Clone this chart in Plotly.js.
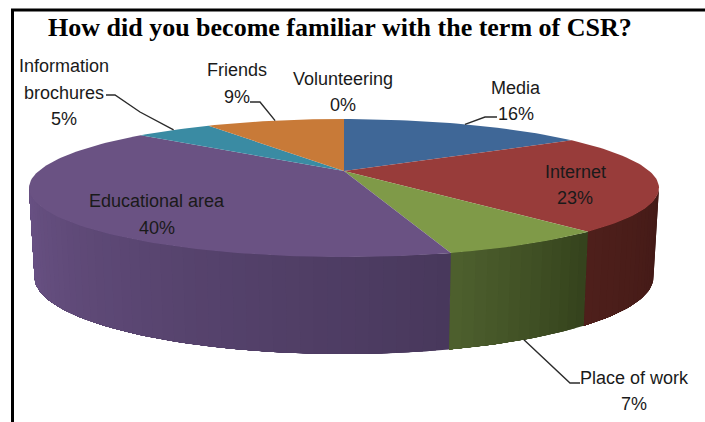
<!DOCTYPE html>
<html>
<head>
<meta charset="utf-8">
<script src="https://cdn.plot.ly/plotly-3.0.1.min.js"></script>
<style>html,body{margin:0;padding:0;background:#fff}#chart{width:705px;height:422px}</style>
</head>
<body>
<div id="chart"></div>
<script>
// Data
var categories = ["Media","Internet","Place of work","Educational area","Information brochures","Friends","Volunteering"];
var values = [16, 22.75, 6.95, 40.3, 5, 9, 0];
var titleText = "How did you become familiar with the term of CSR?";

// Styles
var topColors = ["#3f6797","#983c3a","#7f9a48","#6a5283","#3a8ba3","#c87a38","#8064a2"];
var sideLeft  = {1:[78,31,27],  2:[78,96,46], 3:[106,82,133]};
var sideRight = {1:[66,25,22],  2:[52,66,28], 3:[72,56,92]};
var labelLines = [["Media"],["Internet"],["Place of work"],["Educational area"],["Information","brochures"],["Friends"],["Volunteering"]];
var labelPos = [[516,88,26],[575,172,26],[634,378,26],[157,201,27],[64,66,26.5],[237,70,27],[343,79,26]];
var leaders = {0:[[485,117],[497,117]], 2:[[570,383],[580,383]], 4:[[140,112],[115,95],[106,95]], 5:[[260,102],[250,102]]};

// Perspective geometry of the disc
var cx = 344, cy = 171, k = 0.2464, a = 305.3, b = 64.8;
var botCy = 277, botRy = 77, botRx = 309.5;
function rad(d){return d*Math.PI/180;}
function topPt(deg){
  var u = Math.sin(rad(deg)), v = Math.cos(rad(deg)), w = 1 + k*v;
  return [cx + a*u/w, cy - b*v/w];
}
function botPt(deg){
  var x = (topPt(deg)[0]-cx)*botRx/315;
  var r = Math.min(1, Math.abs(x)/botRx);
  return [cx + x, botCy + botRy*Math.sqrt(1-r*r)];
}
var total = values.reduce(function(s,v){return s+v;},0);
var starts = [], c = 0;
values.forEach(function(v){starts.push(c/total*360); c += v;});
function endOf(i){return starts[i] + values[i]/total*360;}

var traces = [];
function poly(pts,color){
  traces.push({type:"scatter",mode:"lines",x:pts.map(function(p){return p[0];}),y:pts.map(function(p){return p[1];}),
    fill:"toself",fillcolor:color,line:{color:color,width:0},hoverinfo:"skip",showlegend:false});
}
// side wall: only the front of the disc is visible
var frontA = 180 - Math.acos(k)*180/Math.PI, frontB = 180 + Math.acos(k)*180/Math.PI;
[1,2,3].forEach(function(i){
  var s = Math.max(starts[i],frontA), e = Math.min(endOf(i),frontB);
  var n = Math.max(4, Math.round((e-s)/2));
  for(var j=0;j<n;j++){
    var t0 = s+(e-s)*j/n, f = (j+0.5)/n;
    var L = sideLeft[i], R = sideRight[i];
    var col = "rgb("+[0,1,2].map(function(q){return Math.round(R[q]+(L[q]-R[q])*f);}).join(",")+")";
    // each strip runs on to the end of the slice so no seams show between strips
    var pts = [], m = Math.ceil((e-t0)/1.5), q;
    for(q=0;q<=m;q++) pts.push(topPt(t0+(e-t0)*q/m));
    for(q=m;q>=0;q--) pts.push(botPt(t0+(e-t0)*q/m));
    pts.push(pts[0]);
    poly(pts,col);
  }
});
// top face
values.forEach(function(v,i){
  if(v<=0) return;
  var pts = [[cx,cy]], s = starts[i], e = endOf(i), n = Math.ceil((e-s)/1.5);
  for(var j=0;j<=n;j++) pts.push(topPt(s+(e-s)*j/n));
  pts.push([cx,cy]);
  poly(pts,topColors[i]);
});
// leader lines, anchored on their slices
Object.keys(leaders).forEach(function(key){
  var i = +key, mid = (starts[i]+endOf(i))/2;
  var anchor = (i===2) ? botPt(mid) : topPt(mid);
  var pts = [anchor].concat(leaders[key]);
  traces.push({type:"scatter",mode:"lines",x:pts.map(function(p){return p[0];}),y:pts.map(function(p){return p[1];}),
    line:{color:"#2b2b2b",width:1.4},hoverinfo:"skip",showlegend:false});
});
// labels
var annotations = [];
function addText(x,y,t){
  annotations.push({x:x,y:y,xref:"x",yref:"y",text:t,showarrow:false,xanchor:"center",yanchor:"middle",
    font:{family:"Liberation Sans, Arial, sans-serif",size:18,color:"#1a1a1a"}});
}
categories.forEach(function(cat,i){
  var lines = labelLines[i].concat([Math.round(values[i])+"%"]);
  var p = labelPos[i];
  lines.forEach(function(t,j){addText(p[0],p[1]+p[2]*j,t);});
});
annotations.push({x:340,y:27,xref:"x",yref:"y",text:"<b>"+titleText+"</b>",showarrow:false,xanchor:"center",yanchor:"middle",
  font:{family:"Liberation Serif, Times New Roman, serif",size:26,color:"#000"}});

var layout = {
  width:705,height:422,margin:{l:0,r:0,t:0,b:0},
  paper_bgcolor:"#fff",plot_bgcolor:"#fff",showlegend:false,
  xaxis:{range:[0,705],visible:false,fixedrange:true},
  yaxis:{range:[422,0],visible:false,fixedrange:true},
  annotations:annotations,
  shapes:[
    {type:"line",xref:"x",yref:"y",x0:11,x1:705,y0:10,y1:10,line:{color:"#000",width:3}},
    {type:"line",xref:"x",yref:"y",x0:12.5,x1:12.5,y0:9,y1:422,line:{color:"#000",width:3}}
  ]
};
Plotly.newPlot("chart",traces,layout,{displayModeBar:false,staticPlot:true});
</script>
</body>
</html>
